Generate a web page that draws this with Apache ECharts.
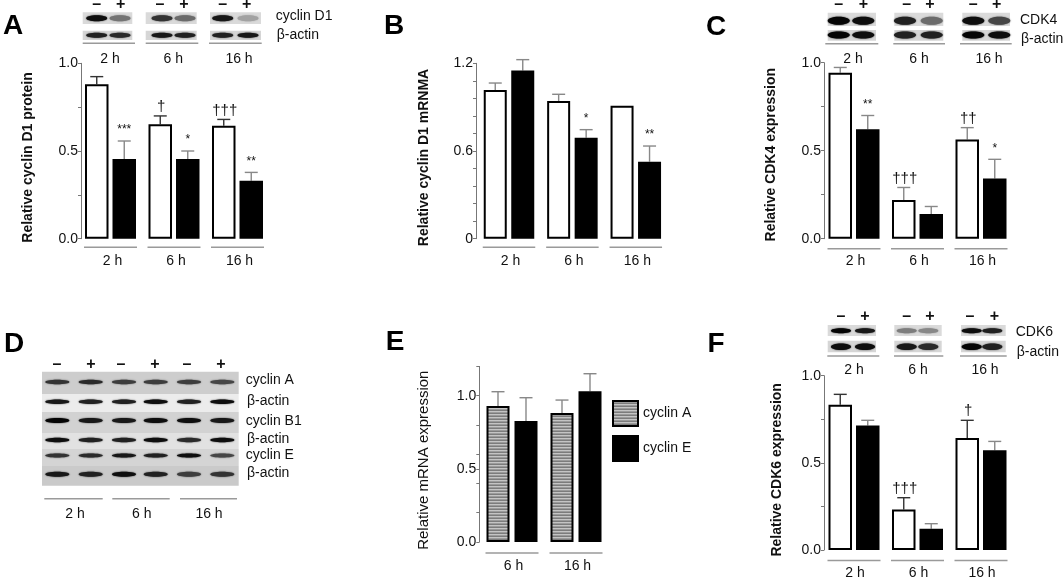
<!DOCTYPE html>
<html><head><meta charset="utf-8">
<style>html,body{margin:0;padding:0;background:#fff}#c{width:1063px;height:581px}</style>
<script src="https://cdn.jsdelivr.net/npm/echarts@6/dist/echarts.min.js"></script>
</head><body><div id="c"></div>
<script>
const hours3 = ['2 h','6 h','16 h'];
const hours2 = ['6 h','16 h'];

const aControl = [0.88,0.653,0.644], aControlTop = [0.924,0.70,0.68], aControlMarks = ['','†','†††'];
const aTreated = [0.455,0.455,0.33], aTreatedTop = [0.557,0.50,0.378], aTreatedMarks = ['***','*','**'];
const aTicks = [0,0.25,0.5,0.75,1], aLabelValues = [0,0.5,1], aLabels = ['0.0','0.5','1.0'];

const bControl = [1.017,0.942,0.91], bControlTop = [1.065,0.988,null], bControlMarks = ['','',''];
const bTreated = [1.15,0.691,0.527], bTreatedTop = [1.225,0.746,0.634], bTreatedMarks = ['','*','**'];
const bTicks = [0,0.12,0.24,0.36,0.48,0.6,0.72,0.84,0.96,1.08,1.2], bLabelValues = [0,0.6,1.2], bLabels = ['0','0.6','1.2'];

const cControl = [0.943,0.22,0.563], cControlTop = [0.973,0.291,0.631], cControlMarks = ['','†††','††'];
const cTreated = [0.622,0.141,0.342], cTreatedTop = [0.70,0.183,0.451], cTreatedMarks = ['**','','*'];

const eCyclinA = [0.929,0.882], eCyclinATop = [1.027,0.970];
const eCyclinE = [0.827,1.03], eCyclinETop = [0.986,1.15];
const eTicks = [0,0.2,0.4,0.5,0.6,0.8,1,1.2], eLabelValues = [0,0.5,1], eLabels = ['0.0','0.5','1.0'];

const fControl = [0.834,0.233,0.642], fControlTop = [0.893,0.30,0.744], fControlMarks = ['','†††','†'];
const fTreated = [0.715,0.122,0.572], fTreatedTop = [0.744,0.151,0.623], fTreatedMarks = ['','',''];

// relative band strengths read from the blots (-,+ per time point)
const blotACyclin = [0.95,0.4,0.75,0.45,0.9,0.15], blotAActin = [0.85,0.8,0.9,0.85,0.85,0.9];
const blotCCdk4 = [1,0.95,0.85,0.45,0.95,0.65], blotCActin = [1,0.95,0.85,0.85,1,0.95];
const blotFCdk6 = [1,0.9,0.35,0.3,0.95,0.85], blotFActin = [0.95,0.95,0.9,0.8,1,0.85];
const blotDCyclinA = [0.75,0.8,0.7,0.7,0.7,0.65], blotDActin1 = [0.9,0.85,0.85,0.95,0.85,0.95];
const blotDCyclinB1 = [1,0.9,0.9,0.95,0.95,0.9], blotDActin2 = [0.95,0.85,0.85,0.95,0.8,0.95];
const blotDCyclinE = [0.75,0.8,0.9,0.85,0.95,0.65], blotDActin3 = [0.9,0.85,0.95,0.85,0.7,0.75];

const FONT = '"Liberation Sans", Arial, sans-serif';
const stripe = document.createElement('canvas');
stripe.width = 4; stripe.height = 3;
(function(){const x = stripe.getContext('2d');x.fillStyle='#9a9a9a';x.fillRect(0,0,4,3);x.fillStyle='#c4c4c4';x.fillRect(0,0,4,1);x.fillStyle='#7c7c7c';x.fillRect(0,2,4,1);})();

const grids=[],xAxes=[],yAxes=[],series=[],graphics=[];

function text(x,y,s,o){
  o=o||{};
  graphics.push({type:'text',x:x,y:y,silent:true,z:20,style:{text:s,fill:o.color||'#111',font:(o.weight||'normal')+' '+(o.size||14)+'px '+FONT,textAlign:o.align||'center',textVerticalAlign:'middle'}});
}
function rule(x0,x1,y){
  graphics.push({type:'line',silent:true,shape:{x1:x0,y1:y,x2:x1,y2:y},style:{stroke:'#9a9a9a',lineWidth:1.5}});
}
function block(x0,x1,y0,y1,bg){
  graphics.push({type:'rect',silent:true,z:1,shape:{x:x0,y:y0,width:x1-x0,height:y1-y0},style:{fill:bg}});
}
function band(cx,cy,w,h,strength){
  const v=Math.round(190-185*strength);
  const col='rgb('+v+','+v+','+v+')';
  graphics.push({type:'ellipse',silent:true,z:2,shape:{cx:cx,cy:cy,rx:w/2,ry:h/2},style:{fill:col,shadowBlur:1.5,shadowColor:col}});
}

function panel(p){
  const i=grids.length;
  grids.push({left:p.left,top:p.top,width:p.width,height:p.bottom-p.top,containLabel:false});
  xAxes.push({type:'category',gridIndex:i,data:p.cats,axisLine:{show:false},axisTick:{show:false},
    axisLabel:{color:'#111',fontFamily:FONT,fontSize:14,margin:p.labelMargin||15,padding:[0,0,0,p.labelNudge||0],interval:0}});
  yAxes.push({type:'value',gridIndex:i,min:p.min||0,max:p.max,offset:p.axisOffset,
    name:p.name,nameLocation:'middle',nameRotate:90,nameGap:p.nameGap,
    nameTextStyle:{color:'#111',fontFamily:FONT,fontSize:p.nameSize||14,fontWeight:p.nameWeight||'bold',padding:[0,p.namePad||0,0,0]},
    axisLine:{show:true,lineStyle:{color:'#777',width:1}},
    axisTick:{show:true,length:3,customValues:p.ticks,lineStyle:{color:'#777',width:1}},
    axisLabel:{color:'#111',fontFamily:FONT,fontSize:14,margin:3,customValues:p.labelValues,padding:[p.labelPad||0,0,0,0],
      formatter:function(v){const k=p.labelValues.findIndex(function(t){return Math.abs(t-v)<1e-6;});return k<0?'':p.labels[k];}},
    splitLine:{show:false}});
  const bw=p.barWidth, gap=p.gapPx;
  const s1={type:'bar',name:p.name1,xAxisIndex:i,yAxisIndex:i,data:p.v1,barWidth:bw,barGap:(gap/bw*100)+'%',
    itemStyle:{color:p.fill1||'#fff',borderColor:'#000',borderWidth:2},silent:true};
  const s2={type:'bar',name:p.name2,xAxisIndex:i,yAxisIndex:i,data:p.v2,barWidth:bw,barGap:(gap/bw*100)+'%',
    itemStyle:{color:'#000',borderColor:'#000',borderWidth:2},silent:true};
  series.push(s1,s2);
  const off=(bw+gap)/2;
  function errs(vals,tops,marks,sign,col,lw){
    series.push({type:'custom',xAxisIndex:i,yAxisIndex:i,silent:true,z:1,
      data:tops.map(function(t,k){return [k,t];}),encode:{x:0,y:1},
      renderItem:function(params,api){
        const k=api.value(0), t=tops[k], base=vals[k];
        if(t==null) return {type:'group',children:[]};
        const a=api.coord([k,base]), b=api.coord([k,t]);
        const x=a[0]+sign*off;
        const ch=[
          {type:'line',shape:{x1:x,y1:a[1],x2:x,y2:b[1]},style:{stroke:col,lineWidth:lw}},
          {type:'line',shape:{x1:x-6.5,y1:b[1],x2:x+6.5,y2:b[1]},style:{stroke:col,lineWidth:lw}}];
        const m=marks&&marks[k];
        if(m){
          const star=m[0]==='*';
          ch.push({type:'text',x:x+(star?0:1),y:b[1]-(star?11:9),style:{text:m,fill:'#111',font:(star?'12px ':'15px ')+FONT,textAlign:'center',textVerticalAlign:'middle'}});
        }
        return {type:'group',children:ch};
      }});
  }
  errs(p.v1,p.t1,p.m1,-1,p.err1||'#888',p.errW1||1.4);
  errs(p.v2,p.t2,p.m2,1,p.err2||'#888',p.errW2||1.4);
  series.push({type:'custom',xAxisIndex:i,yAxisIndex:i,silent:true,
    data:p.cats.map(function(c,k){return [k,0];}),encode:{x:0,y:1},
    renderItem:function(params,api){
      const a=api.coord([api.value(0),0]);
      const hw=(2*bw+gap)/2+1, y=a[1]+p.ruleGap;
      return {type:'line',shape:{x1:a[0]-hw,y1:y,x2:a[0]+hw,y2:y},style:{stroke:'#9a9a9a',lineWidth:1.5}};
    }});
}

panel({left:78.75,top:63.3,bottom:238.7,width:190.5,max:1,axisOffset:-2.25,name:'Relative cyclin D1 protein',nameGap:46,namePad:13,
  cats:hours3,ticks:aTicks,labelValues:aLabelValues,labels:aLabels,barWidth:23.5,gapPx:4,ruleGap:8.5,labelNudge:4,labelMargin:15,
  name1:'A control',name2:'A treated',v1:aControl,t1:aControlTop,m1:aControlMarks,v2:aTreated,t2:aTreatedTop,m2:aTreatedMarks,err1:'#333'});
panel({left:477.3,top:63.3,bottom:238.7,width:190.2,max:1.2,axisOffset:1.3,name:'Relative cyclin D1 mRNMA',nameGap:45,namePad:13,
  cats:hours3,ticks:bTicks,labelValues:bLabelValues,labels:bLabels,barWidth:23,gapPx:4.5,ruleGap:8.5,labelNudge:3,
  name1:'B control',name2:'B treated',v1:bControl,t1:bControlTop,m1:bControlMarks,v2:bTreated,t2:bTreatedTop,m2:bTreatedMarks});
panel({left:822.25,top:62.7,bottom:238.7,width:190.5,max:1,axisOffset:-1.75,name:'Relative CDK4 expression',nameGap:46,namePad:8,
  cats:hours3,ticks:aTicks,labelValues:aLabelValues,labels:aLabels,labelPad:6,barWidth:23.5,gapPx:4,ruleGap:10,labelNudge:3,
  name1:'C control',name2:'C treated',v1:cControl,t1:cControlTop,m1:cControlMarks,v2:cTreated,t2:cTreatedTop,m2:cTreatedMarks});
panel({left:480,top:366.4,bottom:542,width:128,max:1.2,axisOffset:0.7,name:'Relative mRNA expression',nameGap:48,namePad:12,nameWeight:'normal',nameSize:15,
  cats:hours2,ticks:eTicks,labelValues:eLabelValues,labels:eLabels,barWidth:23,gapPx:5,ruleGap:11,labelNudge:3,labelMargin:17,
  name1:'cyclin A',name2:'cyclin E',fill1:{image:stripe,repeat:'repeat'},v1:eCyclinA,t1:eCyclinATop,v2:eCyclinE,t2:eCyclinETop,err1:'#888',err2:'#888'});
panel({left:822.25,top:375.7,bottom:550,width:190.5,max:1,axisOffset:-1.75,name:'Relative CDK6 expression',nameGap:40,namePad:14,
  cats:hours3,ticks:aTicks,labelValues:aLabelValues,labels:aLabels,labelPad:2,barWidth:23.5,gapPx:4,ruleGap:10.5,labelNudge:2,labelMargin:16,
  name1:'F control',name2:'F treated',v1:fControl,t1:fControlTop,m1:fControlMarks,v2:fTreated,t2:fTreatedTop,m2:fTreatedMarks,err1:'#333'});

// panel letters
[['A',13,26],['B',394,26],['C',716,27],['D',14,344],['E',395,342],['F',716,344]].forEach(function(l){text(l[1],l[2],l[0],{size:28,weight:'bold',color:'#000'});});

function topBlot(o){
  o.blocks.forEach(function(b,g){
    block(b[0],b[1],o.y1[0],o.y1[1],o.bg||'#dadada');
    block(b[0],b[1],o.y2[0],o.y2[1],o.bg||'#d6d6d6');
    [0,1].forEach(function(j){
      band(o.bands[g][j],o.by1,o.w,o.h1,o.s1[g*2+j]);
      band(o.bands[g][j],o.by2,o.w,o.h2,o.s2[g*2+j]);
      text(o.signs[g][j],o.signY,j?'+':'–',{size:16,weight:'bold'});
    });
    rule(o.rules[g][0],o.rules[g][1],o.ruleY);
    text(o.hx[g],o.hy,hours3[g]);
  });
  text(o.lx,o.ly1,o.name,{align:'left'});
  text(o.lx+1,o.ly2,'β-actin',{align:'left'});
}
topBlot({blocks:[[82.7,132.3],[145.7,196.7],[210,261]],y1:[12.3,24],y2:[30.7,40],w:21,
  bands:[[96.7,120],[162,185],[222.7,248]],by1:18.3,by2:35.3,h1:6,h2:5,s1:blotACyclin,s2:blotAActin,
  signs:[[96.7,120.7],[160,184],[222.7,246.7]],signY:5,rules:[[82.7,135],[145.7,198.3],[209,261.7]],ruleY:43.3,
  hx:[110,173.3,239],hy:58.7,name:'cyclin D1',lx:275.7,ly1:16,ly2:34.7});
topBlot({blocks:[[827.7,876],[894.3,943.3],[962.3,1010]],y1:[12.7,26],y2:[30,40.7],w:22,
  bands:[[838.7,863.3],[905,931.7],[973.3,999.3]],by1:20.7,by2:35,h1:8,h2:7,s1:blotCCdk4,s2:blotCActin,
  signs:[[838.7,863.3],[906.7,930],[973.3,996.7]],signY:5,rules:[[825.3,878.3],[893.3,945],[960,1011.7]],ruleY:43.7,
  hx:[853,919,989],hy:59,name:'CDK4',lx:1020,ly1:20,ly2:39.3});
topBlot({blocks:[[827.7,876],[894.3,941.7],[961,1005.7]],y1:[325,336],y2:[340.7,352.3],w:20,
  bands:[[841,865],[906.7,928.3],[971.7,992.3]],by1:330.7,by2:346.7,h1:5,h2:6.5,s1:blotFCdk6,s2:blotFActin,
  signs:[[841,865],[906.7,930],[970,994.3]],signY:316.7,rules:[[827.3,879.3],[894,943.3],[960,1006.7]],ruleY:356,
  hx:[854,918,985],hy:370,name:'CDK6',lx:1015.7,ly1:331.7,ly2:351.7});

const dBandX=[57.3,90.7,124,155.7,189,222.3];
[[371.7,394,'#cdcdcd',382,blotDCyclinA,4.5,'cyclin A',380],
 [394,412,'#ececec',401.7,blotDActin1,4.5,'β-actin',401],
 [412,433,'#d2d2d2',420.5,blotDCyclinB1,5,'cyclin B1',421],
 [433,449,'#e2e2e2',440,blotDActin2,4.5,'β-actin',439],
 [449,466,'#d4d4d4',455.5,blotDCyclinE,4,'cyclin E',455],
 [466,485.7,'#cacaca',474.3,blotDActin3,5,'β-actin',473]].forEach(function(r){
  block(42,238.7,r[0],r[1],r[2]);
  dBandX.forEach(function(x,k){band(x,r[3],24,r[5],r[4][k]);});
  text(r[6]==='β-actin'?247:245.7,r[7],r[6],{align:'left'});
});
[[57,'–'],[91,'+'],[121,'–'],[155,'+'],[187,'–'],[221,'+']].forEach(function(s){text(s[0],364.3,s[1],{size:16,weight:'bold'});});
[[44.3,102.7,75],[112.3,169.7,141.7],[180,237,209]].forEach(function(r,k){rule(r[0],r[1],498.7);text(r[2],514,hours3[k]);});

const chart=echarts.init(document.getElementById('c'),null,{renderer:'canvas'});
chart.setOption({animation:false,backgroundColor:'#fff',grid:grids,xAxis:xAxes,yAxis:yAxes,series:series,
  legend:{show:true,data:[{name:'cyclin A',icon:'rect'},{name:'cyclin E',icon:'rect'}],orient:'vertical',left:612,top:400,padding:0,itemWidth:25,itemHeight:25,itemGap:8,selectedMode:false,
    textStyle:{color:'#111',fontFamily:FONT,fontSize:14}},
  graphic:{elements:graphics}});
</script></body></html>
